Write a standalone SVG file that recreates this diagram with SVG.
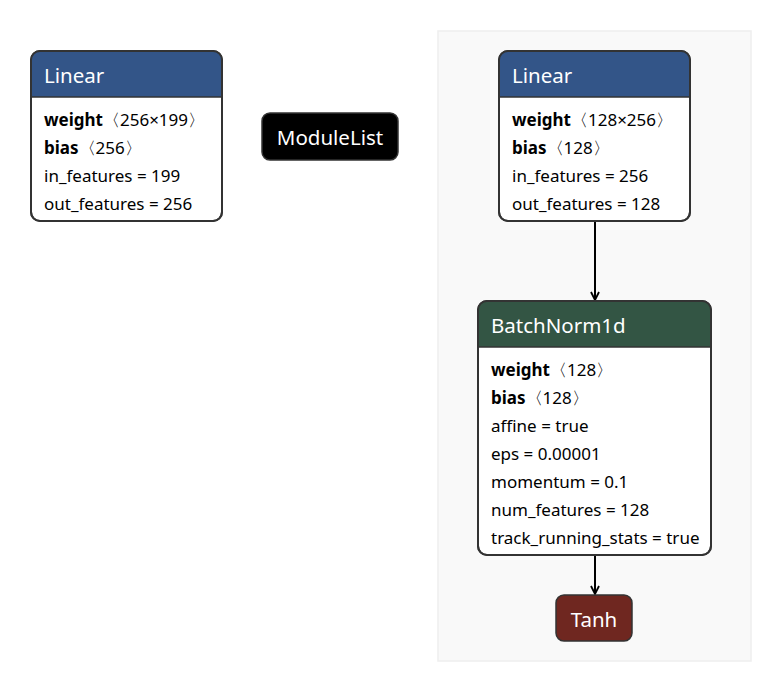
<svg xmlns="http://www.w3.org/2000/svg" width="784" height="694" viewBox="0 0 784 694">
<defs>
<marker id="arr" viewBox="0 0 10 10" refX="9" refY="5" markerWidth="10" markerHeight="10" markerUnits="userSpaceOnUse" orient="auto">
<path d="M1,1 L9,5 L1,9" fill="none" stroke="#000" stroke-width="1.8"/>
</marker>
<clipPath id="c1"><rect x="31" y="51" width="191" height="170" rx="9"/></clipPath>
<clipPath id="c2"><rect x="499" y="51" width="191" height="170" rx="9"/></clipPath>
<clipPath id="c3"><rect x="478" y="301" width="233" height="254" rx="9"/></clipPath>
</defs>
<style>
text{font-family:"Segoe UI","Noto Sans","Open Sans",sans-serif;}
.t{font-size:20.5px;fill:#fff;}
.b{font-size:17px;fill:#000;}
.bold{font-weight:bold;}
.box{fill:#fff;stroke:#333;stroke-width:2;}
.hd{stroke:#333;stroke-width:1.5;}
.edge{stroke:#000;stroke-width:2;fill:none;marker-end:url(#arr);}
</style>
<rect id="cluster" x="438" y="31" width="313" height="630" fill="#f9f9f9" stroke="#eeeeee" stroke-width="1.5"/>
<g id="edges">
<path class="edge" d="M595,221 L595,300"/>
<path class="edge" d="M595,555 L595,594"/>
</g>
<g id="linear1">
<rect class="box" x="31" y="51" width="191" height="170" rx="9"/>
<rect x="31" y="51" width="191" height="46" fill="#335588" clip-path="url(#c1)"/>
<line class="hd" x1="31" y1="97" x2="222" y2="97"/>
<rect x="31" y="51" width="191" height="170" rx="9" fill="none" stroke="#333" stroke-width="2"/>
<text class="t" x="44" y="83">Linear</text>
<text class="b" x="44" y="126"><tspan class="bold">weight</tspan>〈256×199〉</text>
<text class="b" x="44" y="154"><tspan class="bold">bias</tspan>〈256〉</text>
<text class="b" x="44" y="182">in_features = 199</text>
<text class="b" x="44" y="210">out_features = 256</text>
</g>
<g id="modulelist">
<rect x="262" y="113" width="136" height="47" rx="8" fill="#000" stroke="#333" stroke-width="1.5"/>
<text class="t" x="330" y="145" text-anchor="middle">ModuleList</text>
</g>
<g id="linear2">
<rect class="box" x="499" y="51" width="191" height="170" rx="9"/>
<rect x="499" y="51" width="191" height="46" fill="#335588" clip-path="url(#c2)"/>
<line class="hd" x1="499" y1="97" x2="690" y2="97"/>
<rect x="499" y="51" width="191" height="170" rx="9" fill="none" stroke="#333" stroke-width="2"/>
<text class="t" x="512" y="83">Linear</text>
<text class="b" x="512" y="126"><tspan class="bold">weight</tspan>〈128×256〉</text>
<text class="b" x="512" y="154"><tspan class="bold">bias</tspan>〈128〉</text>
<text class="b" x="512" y="182">in_features = 256</text>
<text class="b" x="512" y="210">out_features = 128</text>
</g>
<g id="batchnorm">
<rect class="box" x="478" y="301" width="233" height="254" rx="9"/>
<rect x="478" y="301" width="233" height="46" fill="#335544" clip-path="url(#c3)"/>
<line class="hd" x1="478" y1="347" x2="711" y2="347"/>
<rect x="478" y="301" width="233" height="254" rx="9" fill="none" stroke="#333" stroke-width="2"/>
<text class="t" x="491" y="333">BatchNorm1d</text>
<text class="b" x="491" y="376"><tspan class="bold">weight</tspan>〈128〉</text>
<text class="b" x="491" y="404"><tspan class="bold">bias</tspan>〈128〉</text>
<text class="b" x="491" y="432">affine = true</text>
<text class="b" x="491" y="460">eps = 0.00001</text>
<text class="b" x="491" y="488">momentum = 0.1</text>
<text class="b" x="491" y="516">num_features = 128</text>
<text class="b" x="491" y="544">track_running_stats = true</text>
</g>
<g id="tanh">
<rect x="556" y="595" width="76" height="46" rx="8" fill="#6f2720" stroke="#333" stroke-width="1.5"/>
<text class="t" x="594" y="627" text-anchor="middle">Tanh</text>
</g>
</svg>
